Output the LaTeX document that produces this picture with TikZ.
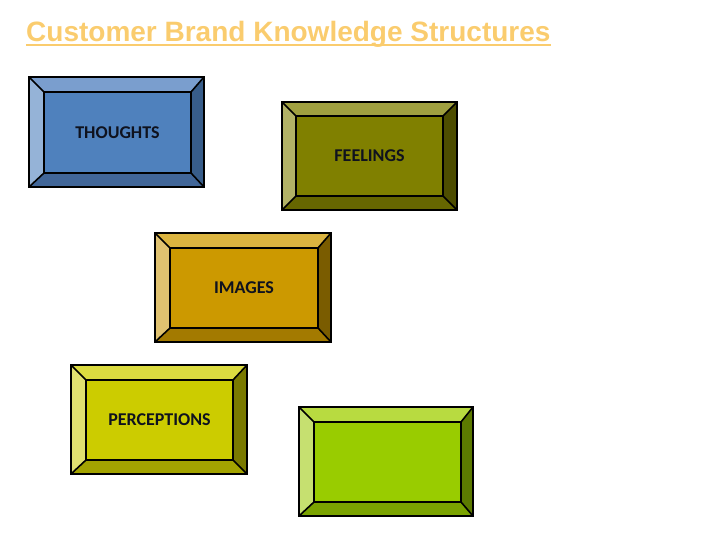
\documentclass[tikz,border=0pt]{standalone}
\usepackage{fontspec}
\setmainfont{Carlito}
\newfontfamily\titlefont{Liberation Sans}
\definecolor{titlecol}{RGB}{250,204,110}
\definecolor{txt}{RGB}{15,18,30}
\definecolor{cbin}{RGB}{79,129,189}\definecolor{cbtop}{RGB}{122,158,206}\definecolor{cblef}{RGB}{149,179,215}\definecolor{cbrig}{RGB}{56,93,138}\definecolor{cbbot}{RGB}{65,102,152}
\definecolor{cfin}{RGB}{128,128,0}\definecolor{cftop}{RGB}{160,160,64}\definecolor{cflef}{RGB}{178,178,102}\definecolor{cfrig}{RGB}{77,77,0}\definecolor{cfbot}{RGB}{102,102,0}
\definecolor{ciin}{RGB}{204,153,0}\definecolor{citop}{RGB}{219,180,64}\definecolor{cilef}{RGB}{224,194,112}\definecolor{cirig}{RGB}{122,92,0}\definecolor{cibot}{RGB}{163,122,0}
\definecolor{cpin}{RGB}{204,204,0}\definecolor{cptop}{RGB}{219,219,64}\definecolor{cplef}{RGB}{224,224,112}\definecolor{cprig}{RGB}{122,122,0}\definecolor{cpbot}{RGB}{163,163,0}
\definecolor{cgin}{RGB}{153,204,0}\definecolor{cgtop}{RGB}{184,219,64}\definecolor{cglef}{RGB}{198,224,112}\definecolor{cgrig}{RGB}{92,122,0}\definecolor{cgbot}{RGB}{122,163,0}
\newcommand\bevbox[9]{%
 \fill[fill=#1top] (#2,#3) -- (#4,#3) -- (#8,#7) -- (#6,#7) -- cycle;
 \fill[fill=#1bot] (#2,#5) -- (#4,#5) -- (#8,#9) -- (#6,#9) -- cycle;
 \fill[fill=#1lef] (#2,#3) -- (#6,#7) -- (#6,#9) -- (#2,#5) -- cycle;
 \fill[fill=#1rig] (#4,#3) -- (#8,#7) -- (#8,#9) -- (#4,#5) -- cycle;
 \fill[fill=#1in] (#6,#7) rectangle (#8,#9);
 \draw[bev] (#2,#3) rectangle (#4,#5);
 \draw[bev] (#6,#7) rectangle (#8,#9);
 \draw[bev] (#2,#3) -- (#6,#7) (#4,#3) -- (#8,#7) (#2,#5) -- (#6,#9) (#4,#5) -- (#8,#9);
}
\begin{document}
\begin{tikzpicture}[x=1pt,y=-1pt,
  bev/.style={draw=black,line width=1.6pt,line join=miter},
  lbl/.style={font=\bfseries\fontsize{18}{21}\selectfont,text=txt,inner sep=0pt}]
\useasboundingbox (0,0) rectangle (720,540);
\node[anchor=base west,inner sep=0pt,text=titlecol,font=\titlefont\bfseries\fontsize{28}{32}\selectfont] (title) at (26,42) {Customer Brand Knowledge Structures};
\draw[titlecol,line width=2pt] ([yshift=-3pt]title.base west) -- ([yshift=-3pt]title.base east);
\bevbox{cb}{29}{77}{204}{187}{44}{92}{191}{173}
\bevbox{cf}{282}{102}{457}{210}{296}{116}{443}{196}
\bevbox{ci}{155}{233}{331}{342}{170}{248}{318}{328}
\bevbox{cp}{71}{365}{247}{474}{86}{380}{233}{460}
\bevbox{cg}{299}{407}{473}{516}{314}{422}{461}{502}
\node[lbl] (thoughts) at (117.5,132.5) {THOUGHTS};
\node[lbl] (feelings) at (369.5,156) {FEELINGS};
\node[lbl] (images) at (244,288) {IMAGES};
\node[lbl] (perceptions) at (159.5,420) {PERCEPTIONS};
\end{tikzpicture}
\end{document}
